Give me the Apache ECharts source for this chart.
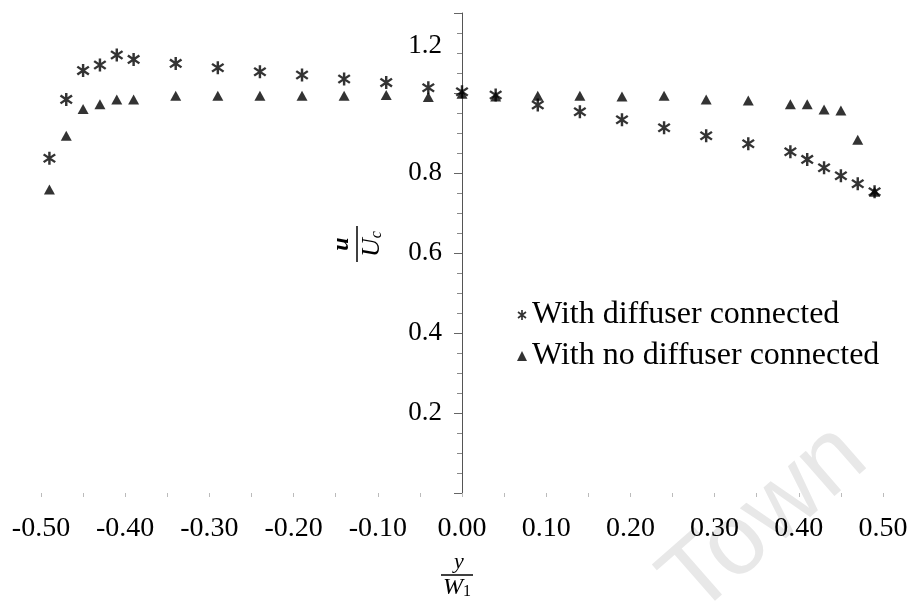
<!DOCTYPE html>
<html>
<head>
<meta charset="utf-8">
<script src="https://cdn.jsdelivr.net/npm/echarts@6/dist/echarts.min.js"></script>
<style>
  html, body { margin: 0; padding: 0; background: #fff; }
  #chart-container { width: 911px; height: 611px; }
</style>
</head>
<body>
<div id="chart-container"></div>
<script>
// y / W1 positions
var yPos = [-0.49, -0.47, -0.45, -0.43, -0.41, -0.39, -0.34, -0.29, -0.24, -0.19, -0.14, -0.09, -0.04,
    0.00, 0.04, 0.09, 0.14, 0.19, 0.24, 0.29, 0.34, 0.39, 0.41, 0.43, 0.45, 0.47, 0.49];
// u / Uc with diffuser connected
var withDiffuser = [0.837, 0.984, 1.056, 1.070, 1.095, 1.084, 1.074, 1.063, 1.053, 1.045, 1.035, 1.026, 1.013,
    1.003, 0.995, 0.970, 0.953, 0.933, 0.913, 0.893, 0.873, 0.853, 0.834, 0.813, 0.793, 0.773, 0.753];
// u / Uc with no diffuser connected
var noDiffuser = [0.759, 0.893, 0.960, 0.972, 0.984, 0.984, 0.993, 0.993, 0.993, 0.993, 0.993, 0.995, 0.990,
    0.998, 0.991, 0.993, 0.993, 0.991, 0.993, 0.984, 0.981, 0.972, 0.972, 0.959, 0.956, 0.883, 0.753];
var seriesNames = ['With diffuser connected', 'With no diffuser connected'];

var serif = '"Liberation Serif", "DejaVu Serif", serif';
var starPath = 'path://M8.3 0L11.7 0L11.7 20L8.3 20Z' +
    'M3.0 2.6L19.0 14.6L17.0 17.4L1.0 5.4Z' +
    'M1.0 14.6L17.0 2.6L19.0 5.4L3.0 17.4Z';

function pairs(xs, ys) {
    var out = [];
    for (var i = 0; i < xs.length; i++) {
        out.push([xs[i], ys[i]]);
    }
    return out;
}

var dom = document.getElementById('chart-container');
var myChart = echarts.init(dom, null, { renderer: 'canvas' });

var option = {
    animation: false,
    backgroundColor: '#fff',
    grid: {
        left: 41,
        right: 28,
        top: 13,
        bottom: 118,
        outerBoundsMode: 'none'
    },
    legend: {
        orient: 'vertical',
        left: 512,
        top: 294,
        itemWidth: 10,
        itemHeight: 10,
        itemGap: 9,
        selectedMode: false,
        textStyle: {
            fontFamily: serif,
            fontSize: 32,
            color: '#000'
        },
        data: [
            { name: seriesNames[0], icon: starPath },
            { name: seriesNames[1], icon: 'triangle' }
        ]
    },
    xAxis: {
        type: 'value',
        min: -0.5,
        max: 0.5,
        interval: 0.1,
        axisLine: { show: false },
        axisTick: {
            show: true,
            length: 4,
            lineStyle: { color: '#bbb', width: 1 }
        },
        minorTick: {
            show: true,
            splitNumber: 2,
            length: 4,
            lineStyle: { color: '#bbb', width: 1 }
        },
        splitLine: { show: false },
        axisLabel: {
            margin: 22,
            fontFamily: serif,
            fontSize: 28,
            color: '#000',
            formatter: function (v) {
                return v.toFixed(2);
            }
        }
    },
    yAxis: {
        type: 'value',
        min: 0,
        max: 1.2,
        interval: 0.2,
        offset: -421,
        axisLine: {
            show: true,
            onZero: false,
            lineStyle: { color: '#555', width: 1 }
        },
        axisTick: {
            show: true,
            length: 8,
            lineStyle: { color: '#666', width: 1 }
        },
        minorTick: {
            show: true,
            splitNumber: 4,
            length: 5,
            lineStyle: { color: '#888', width: 1 }
        },
        splitLine: { show: false },
        axisLabel: {
            margin: 20,
            fontFamily: serif,
            fontSize: 27,
            color: '#000',
            formatter: function (v) {
                if (Math.abs(v) < 1e-6 || Math.abs(v - 1) < 1e-6) return '';
                if (Math.abs(v - 1.2) < 1e-6) return '{top|1.2}';
                return v.toFixed(1);
            },
            rich: {
                top: {
                    fontFamily: serif,
                    fontSize: 27,
                    color: '#000',
                    padding: [66, 0, 0, 0]
                }
            }
        }
    },
    graphic: [
        // watermark
        {
            type: 'text',
            z: -10,
            x: 765,
            y: 520,
            rotation: 0.72,
            style: {
                text: 'Town',
                font: '100px "Liberation Sans", Arial, sans-serif',
                fill: '#e8e8e8',
                align: 'center',
                verticalAlign: 'middle'
            }
        },
        // y-axis name u / Uc
        {
            type: 'group',
            x: 357,
            y: 244,
            rotation: Math.PI / 2,
            children: [
                {
                    type: 'text',
                    style: {
                        text: 'u',
                        x: 0,
                        y: -3,
                        font: 'bold italic 24px ' + serif,
                        fill: '#000',
                        align: 'center',
                        verticalAlign: 'bottom'
                    }
                },
                {
                    type: 'line',
                    shape: { x1: -18, y1: 0, x2: 18, y2: 0 },
                    style: { stroke: '#000', lineWidth: 1.5 }
                },
                {
                    type: 'text',
                    style: {
                        text: '{a|U}{b|c}',
                        x: 0,
                        y: 2,
                        align: 'center',
                        verticalAlign: 'top',
                        rich: {
                            a: { font: 'italic 26px ' + serif, fill: '#000' },
                            b: { font: 'italic 16px ' + serif, fill: '#000', verticalAlign: 'bottom', padding: [10, 0, 0, 0] }
                        }
                    }
                }
            ]
        },
        // x-axis name y / W1
        {
            type: 'group',
            x: 457,
            y: 575,
            children: [
                {
                    type: 'text',
                    style: {
                        text: 'y',
                        x: 2,
                        y: -2,
                        font: 'italic 22px ' + serif,
                        fill: '#000',
                        align: 'center',
                        verticalAlign: 'bottom'
                    }
                },
                {
                    type: 'line',
                    shape: { x1: -16, y1: 0, x2: 16, y2: 0 },
                    style: { stroke: '#000', lineWidth: 1.5 }
                },
                {
                    type: 'text',
                    style: {
                        text: '{a|W}{b|1}',
                        x: 0,
                        y: 1,
                        align: 'center',
                        verticalAlign: 'top',
                        rich: {
                            a: { font: 'italic 24px ' + serif, fill: '#000' },
                            b: { font: '16px ' + serif, fill: '#000', verticalAlign: 'bottom', padding: [8, 0, 0, 0] }
                        }
                    }
                }
            ]
        }
    ],
    series: [
        {
            name: seriesNames[1],
            type: 'scatter',
            symbol: 'triangle',
            symbolSize: [11, 10],
            itemStyle: { color: '#000' },
            data: pairs(yPos, noDiffuser)
        },
        {
            name: seriesNames[0],
            type: 'scatter',
            symbol: starPath,
            symbolSize: 13,
            itemStyle: { color: '#000' },
            data: pairs(yPos, withDiffuser)
        }
    ]
};

myChart.setOption(option);
window.addEventListener('resize', myChart.resize);
</script>
</body>
</html>
